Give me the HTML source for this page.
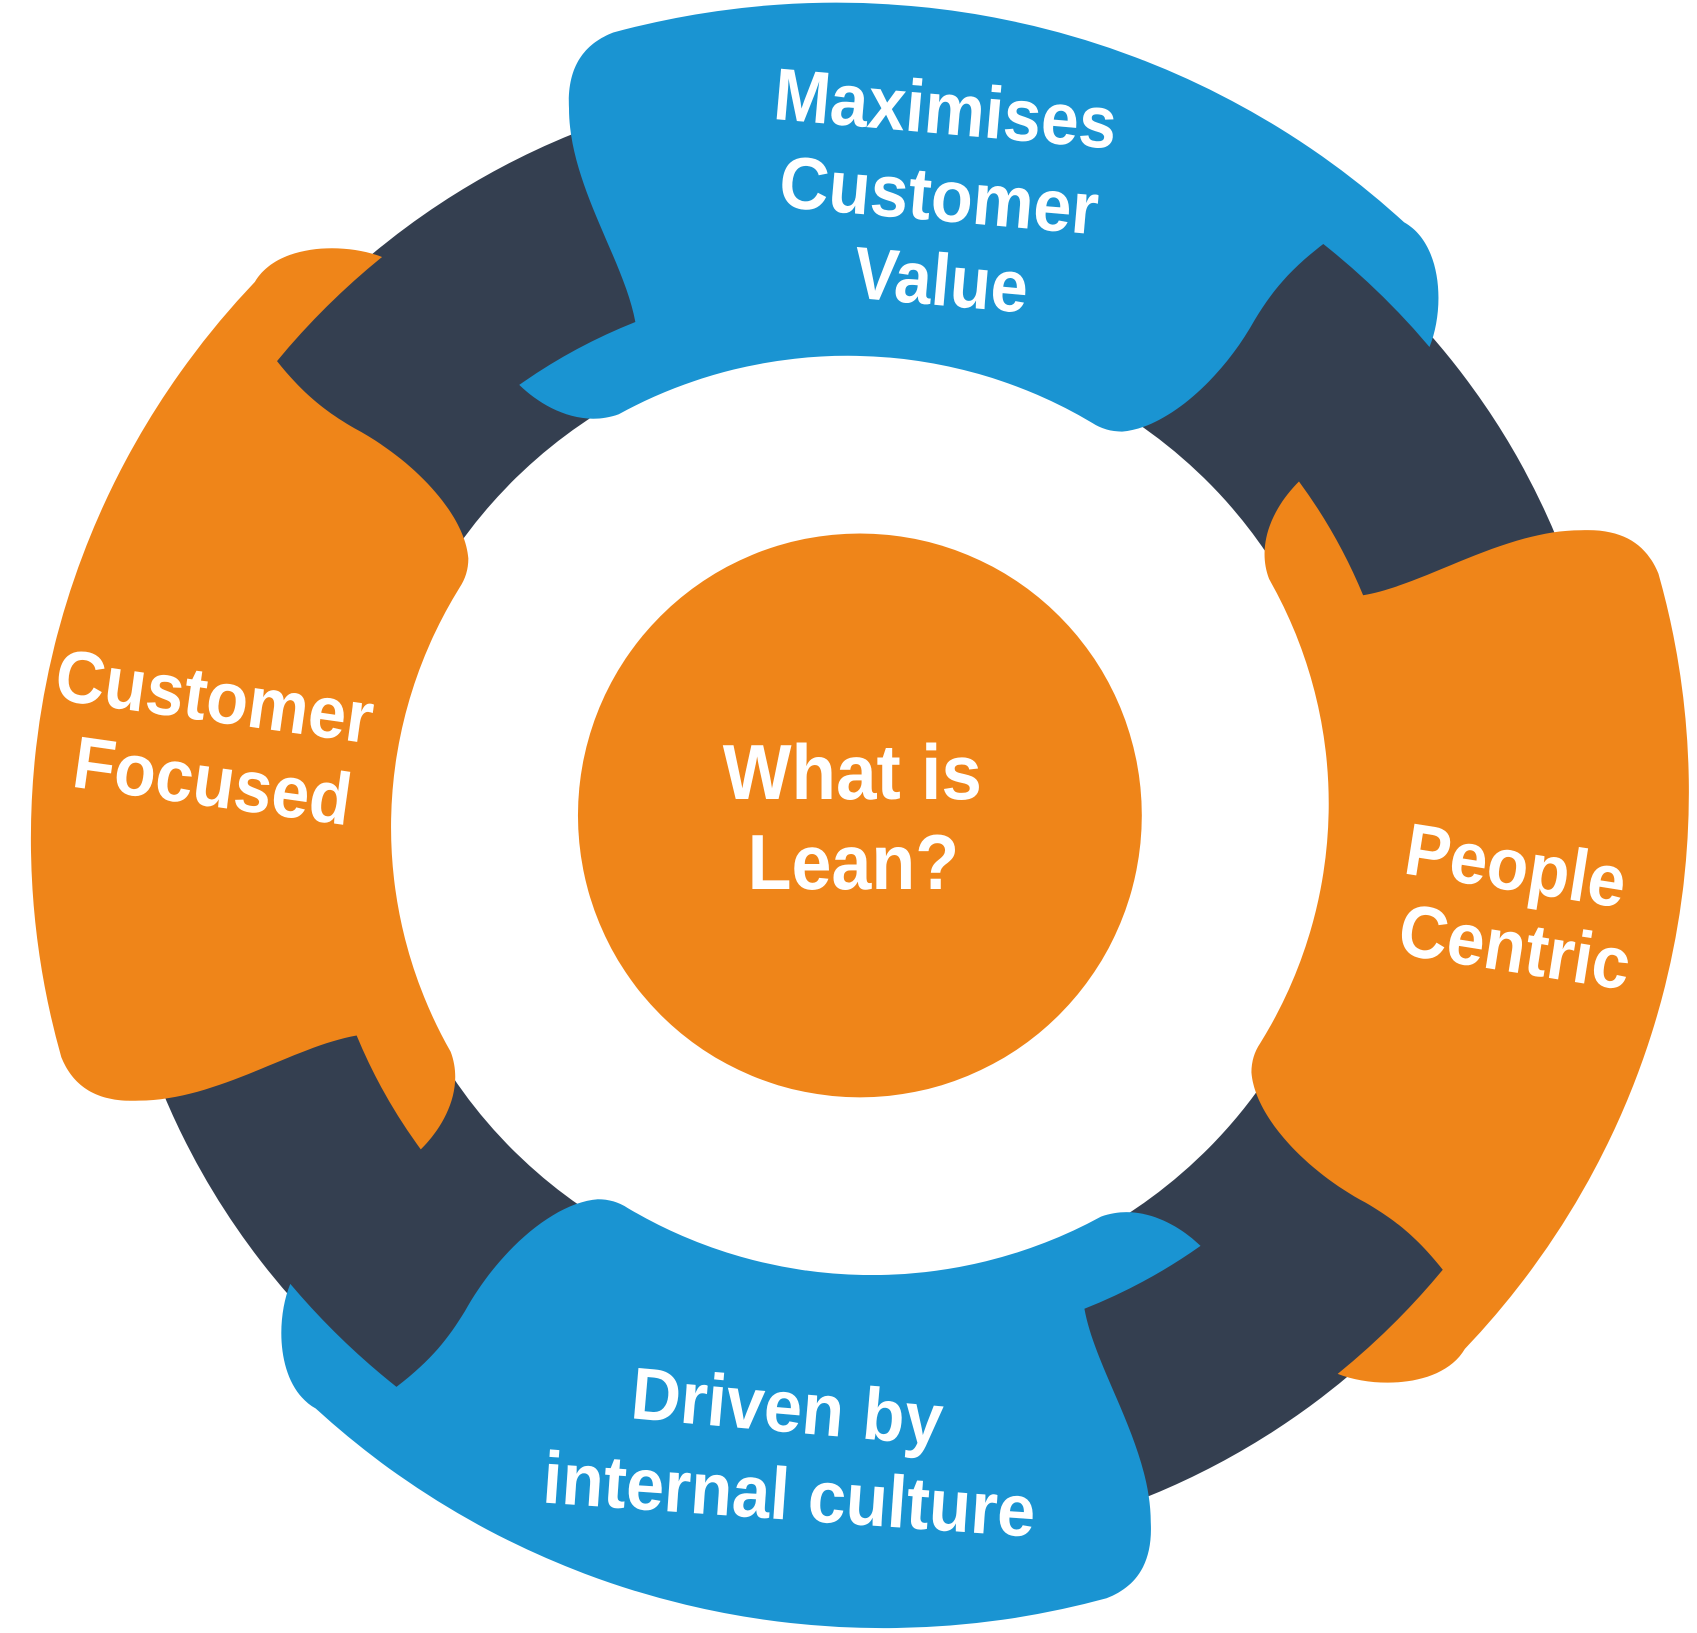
<!DOCTYPE html>
<html><head><meta charset="utf-8"><style>
html,body{margin:0;padding:0;background:#fff;}
svg{display:block;}
text{font-family:"Liberation Sans",Arial,sans-serif;font-weight:bold;fill:#fff;}
</style></head><body>
<svg width="1697" height="1633" viewBox="0 0 1565 1506" preserveAspectRatio="none" xmlns="http://www.w3.org/2000/svg">
<defs>
<path id="seg" d="M570,30 A752,752 0 0 1 1285,205 C1320,225 1322,285 1308,320 A680,680 0 0 0 1212,225 C1180,250 1165,270 1150,295 C1120,350 1070,395 1030,398 Q1015,398 1003,390 A425,425 0 0 0 575,382 C540,395 505,375 485,355 A500,500 0 0 1 590,297 C580,240 530,170 530,100 C528,60 545,40 570,30 Z"/>
</defs>
<g transform="translate(793 752) scale(1.02 1) translate(-793 -752)">
<circle cx="793" cy="752" r="560" fill="none" stroke="#343f50" stroke-width="240"/>
<use href="#seg" fill="#1a94d2"/>
<use href="#seg" fill="#ef8519" transform="rotate(90 793 752)"/>
<use href="#seg" fill="#1a94d2" transform="rotate(180 793 752)"/>
<use href="#seg" fill="#ef8519" transform="rotate(270 793 752)"/>
</g>
<circle cx="793" cy="752" r="260" fill="#ef8519"/>

<g font-size="68" text-anchor="middle" dominant-baseline="central">
<text x="872" y="100" textLength="317" lengthAdjust="spacingAndGlyphs" transform="rotate(5 872 100)">Maximises</text>
<text x="866" y="180" textLength="295" lengthAdjust="spacingAndGlyphs" transform="rotate(5 866 180)">Customer</text>
<text x="868" y="258" textLength="161" lengthAdjust="spacingAndGlyphs" transform="rotate(5 868 258)">Value</text>

<text x="198" y="642" textLength="295" lengthAdjust="spacingAndGlyphs" transform="rotate(8 198 642)">Customer</text>
<text x="196" y="720" textLength="258" lengthAdjust="spacingAndGlyphs" transform="rotate(8 196 720)">Focused</text>

<text x="1398" y="798" textLength="205" lengthAdjust="spacingAndGlyphs" transform="rotate(9 1398 798)">People</text>
<text x="1397" y="873" textLength="215" lengthAdjust="spacingAndGlyphs" transform="rotate(9 1397 873)">Centric</text>

<text x="726" y="1297" textLength="288" lengthAdjust="spacingAndGlyphs" transform="rotate(5 726 1297)">Driven by</text>
<text x="728" y="1378" textLength="455" lengthAdjust="spacingAndGlyphs" transform="rotate(4 728 1378)">internal culture</text>
</g>
<g font-size="72" text-anchor="middle" dominant-baseline="central">
<text x="786" y="712" textLength="239" lengthAdjust="spacingAndGlyphs">What is</text>
<text x="787" y="795" textLength="195" lengthAdjust="spacingAndGlyphs">Lean?</text>
</g>
</svg>
</body></html>
